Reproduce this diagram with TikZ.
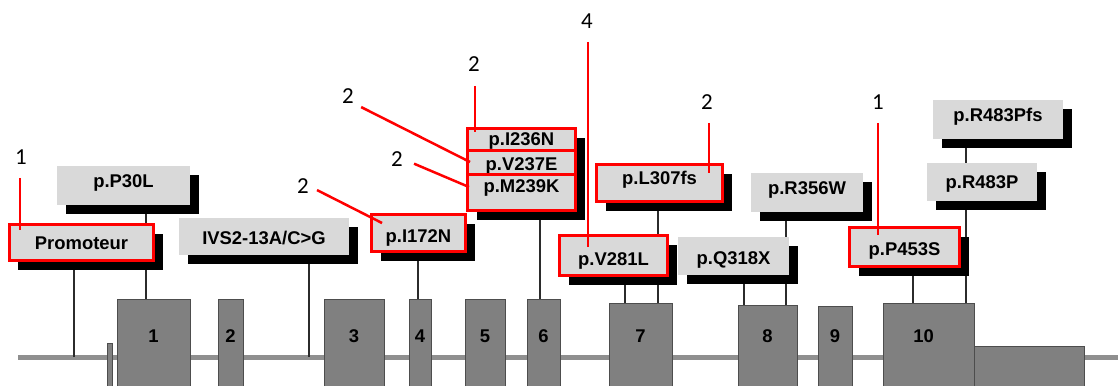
\documentclass[tikz,border=0pt]{standalone}
\usepackage{fontspec}
\setmainfont{Liberation Sans}
\newfontfamily\numfont{Carlito}
\usetikzlibrary{shadows,backgrounds}
\definecolor{boxgray}{HTML}{D9D9D9}
\definecolor{exgray}{HTML}{808080}
\definecolor{exedge}{HTML}{4D4D4D}
\definecolor{linegray}{HTML}{8F8F8F}
\definecolor{stemcol}{HTML}{2B2B2B}
\definecolor{hired}{HTML}{FF0000}
\begin{document}
\begin{tikzpicture}[x=1bp,y=-1bp,
  mut/.style={fill=boxgray, inner sep=0pt, text height=13.3bp, text depth=0pt,
    font=\fontsize{18.5}{20}\selectfont\bfseries,
    drop shadow={shadow xshift=9bp, shadow yshift=-9bp, fill=black, opacity=1}},
  hit/.style={mut, draw=hired, line width=3bp},
  exon/.style={fill=exgray, draw=exedge, line width=0.8bp, inner sep=0pt,
    text height=13.3bp, text depth=0pt, font=\fontsize{18.5}{20}\selectfont\bfseries},
  stem/.style={draw=stemcol, line width=2bp},
  redline/.style={draw=hired, line width=2.5bp},
  num/.style={inner sep=0pt, text height=14.5bp, text depth=0pt,
    font=\numfont\fontsize{23}{25}\selectfont},
]
\useasboundingbox (0,0) rectangle (1118,385);

% baseline coordinates
\coordinate (bl) at (18,357);
\coordinate (br) at (1130,357);
\coordinate (b1) at (74,357);
\coordinate (b2) at (309,357);
% stem x positions
\coordinate (s146) at (146,0);
\coordinate (s418) at (418,0);
\coordinate (s540) at (540,0);
\coordinate (s625) at (625,0);
\coordinate (s658) at (658,0);
\coordinate (s744) at (744,0);
\coordinate (s786) at (786,0);
\coordinate (s913) at (913,0);
\coordinate (s966) at (966,0);

% exons
\node[exon, minimum width=5bp, minimum height=49bp] (tick) at (109.5,367.5) {};
\node[exon, minimum width=73bp, minimum height=93bp] (e1) at (153.5,345.5) {\raisebox{9.5bp}{1}};
\node[exon, minimum width=25bp, minimum height=93bp] (e2) at (230.5,345.5) {\raisebox{9.5bp}{2}};
\node[exon, minimum width=60bp, minimum height=93bp] (e3) at (354,345.5) {\raisebox{9.5bp}{3}};
\node[exon, minimum width=22bp, minimum height=93bp] (e4) at (420,345.5) {\raisebox{9.5bp}{4}};
\node[exon, minimum width=40bp, minimum height=93bp] (e5) at (485,345.5) {\raisebox{9.5bp}{5}};
\node[exon, minimum width=33bp, minimum height=93bp] (e6) at (543.5,345.5) {\raisebox{9.5bp}{6}};
\node[exon, minimum width=63bp, minimum height=89bp] (e7) at (640.5,347.5) {\raisebox{11.5bp}{7}};
\node[exon, minimum width=59bp, minimum height=87bp] (e8) at (767.5,348.5) {\raisebox{12.5bp}{8}};
\node[exon, minimum width=34bp, minimum height=86bp] (e9) at (835,349) {\raisebox{13bp}{9}};
\node[exon, minimum width=91bp, minimum height=89bp] (e10) at (928.5,347.5) {\raisebox{11.5bp}{\hspace*{-10bp}10}};
\node[exon, minimum width=110bp, minimum height=46bp] (utr) at (1029,369) {};

% mutation boxes
\node[mut, minimum width=133bp, minimum height=39bp] (p30) at (123.5,185.5) {\raisebox{5bp}{p.P30L}};
\node[hit, minimum width=144bp, minimum height=36bp] (prom) at (81.5,242.5) {Promoteur};
\node[mut, minimum width=170bp, minimum height=37bp] (ivs) at (264,236.5) {\raisebox{-1bp}{IVS2-13A/C>G}};
\node[hit, minimum width=94bp, minimum height=37bp] (i172) at (418.5,233) {\raisebox{-3bp}{p.I172N}};
\node[hit, minimum width=108bp, minimum height=21.5bp] (i236) at (521.5,139.25) {p.I236N};
\node[hit, minimum width=108bp, minimum height=24bp] (v237) at (521.5,162) {\raisebox{-1.5bp}{p.V237E}};
\node[hit, minimum width=108bp, minimum height=36.5bp] (m239) at (521.5,192.25) {\raisebox{6.75bp}{p.M239K}};
\node[hit, minimum width=126bp, minimum height=37bp] (l307) at (659.5,183) {\raisebox{5.5bp}{p.L307fs}};
\node[hit, minimum width=108bp, minimum height=40bp] (v281) at (613.5,255.5) {\raisebox{-3bp}{p.V281L}};
\node[mut, minimum width=111bp, minimum height=38bp] (q318) at (733.5,256) {\raisebox{-2bp}{p.Q318X}};
\node[mut, minimum width=112bp, minimum height=39bp] (r356) at (807,192.5) {\raisebox{5bp}{p.R356W}};
\node[hit, minimum width=110bp, minimum height=39bp] (p453) at (904.5,247) {\raisebox{-1.5bp}{p.P453S}};
\node[mut, minimum width=110bp, minimum height=38bp] (r483p) at (982,182) {p.R483P};
\node[mut, minimum width=130bp, minimum height=39bp] (r483fs) at (998,119.5) {\raisebox{5bp}{p.R483Pfs}};

% baseline and stems behind
\begin{pgfonlayer}{background}
\draw[draw=linegray, line width=5bp] (bl) -- (br);
\draw[stem] (prom.south -| b1) -- (b1);
\draw[stem] (p30.south -| s146) -- (e1.north -| s146);
\draw[stem] (ivs.south -| b2) -- (b2);
\draw[stem] (i172.south -| s418) -- (e4.north -| s418);
\draw[stem] (m239.south -| s540) -- (e6.north -| s540);
\draw[stem] (v281.south -| s625) -- (e7.north -| s625);
\draw[stem] (l307.south -| s658) -- (e7.north -| s658);
\draw[stem] (q318.south -| s744) -- (e8.north -| s744);
\draw[stem] (r356.south -| s786) -- (e8.north -| s786);
\draw[stem] (p453.south -| s913) -- (e10.north -| s913);
\draw[stem] (r483fs.south -| s966) -- (r483p.north -| s966);
\draw[stem] (r483p.south -| s966) -- (e10.north -| s966);
\end{pgfonlayer}

% annotation numbers
\node[num] (a1) at (21,157) {1};
\node[num] (a2) at (348,96) {2};
\node[num] (a3) at (303,186) {2};
\node[num] (a4) at (474,64) {2};
\node[num] (a5) at (397,159) {2};
\node[num] (a6) at (587,21) {4};
\node[num] (a7) at (707,102) {2};
\node[num] (a8) at (878,102) {1};

% targets inside boxes
\coordinate (t1) at (20,230);
\coordinate (t2) at (470,162);
\coordinate (t3) at (382,223);
\coordinate (t4) at (475,132);
\coordinate (t5) at (469,187);
\coordinate (t6) at (588,247);
\coordinate (t7) at (709,173);
\coordinate (t8) at (878,235);

\draw[redline, shorten <=13.5bp] (a1.south -| t1) -- (t1);
\draw[redline, shorten <=8bp] (a2.south east) -- (t2);
\draw[redline, shorten <=9bp] (a3.east) -- (t3);
\draw[redline, shorten <=14.5bp] (a4.south -| t4) -- (t4);
\draw[redline, shorten <=12bp] (a5.east) -- (t5);
\draw[redline, shorten <=13.5bp] (a6.south -| t6) -- (t6);
\draw[redline, shorten <=13.5bp] (a7.south -| t7) -- (t7);
\draw[redline, shorten <=13.5bp] (a8.south -| t8) -- (t8);
\end{tikzpicture}
\end{document}
